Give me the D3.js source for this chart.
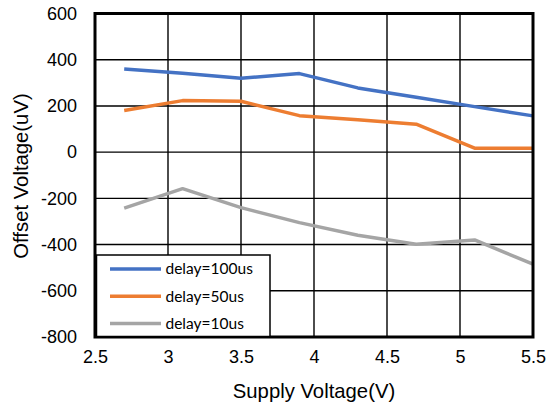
<!DOCTYPE html>
<html>
<head>
<meta charset="utf-8">
<script src="https://cdn.jsdelivr.net/npm/d3@7/dist/d3.min.js"></script>
<style>
  html, body { margin: 0; padding: 0; background: #fff; }
  svg { display: block; }
</style>
</head>
<body>
<svg id="chart" width="546" height="405"></svg>
<script>
// Supply voltage sweep points (V)
const supplyVoltage = [2.7, 3.1, 3.5, 3.9, 4.3, 4.7, 5.1, 5.5];
// Offset voltage (uV) per comparator delay setting
const delay100us = [360, 341, 320, 340, 278, 238, 197, 157];
const delay50us = [180, 223, 220, 158, 140, 121, 17, 17];
const delay10us = [-242, -158, -240, -305, -360, -399, -380, -485];
const seriesNames = ["delay=100us", "delay=50us", "delay=10us"];
const seriesColors = ["#4472C4", "#ED7D31", "#A5A5A5"];
const xTicks = [2.5, 3, 3.5, 4, 4.5, 5, 5.5];
const yTicks = [-800, -600, -400, -200, 0, 200, 400, 600];

const series = [delay100us, delay50us, delay10us].map((vals, i) => ({
  name: seriesNames[i],
  color: seriesColors[i],
  points: vals.map((v, j) => ({ x: supplyVoltage[j], y: v }))
}));

const svg = d3.select("#chart");
const plotLeft = 95, plotRight = 533, plotTop = 13.5, plotBottom = 337;

const x = d3.scaleLinear().domain([2.5, 5.5]).range([plotLeft, plotRight]);
const y = d3.scaleLinear().domain([-800, 600]).range([plotBottom, plotTop]);

const axisFont = "'Liberation Sans', Arial, sans-serif";
// Plain hyphen for negative numbers
const fmt = d3.formatLocale({ decimal: ".", thousands: ",", grouping: [3], currency: ["", ""], minus: "-" });

// Grid lines
const grid = svg.append("g");
grid.selectAll("line.v").data(xTicks).join("line").attr("class", "v")
  .attr("x1", d => x(d)).attr("x2", d => x(d))
  .attr("y1", plotTop).attr("y2", plotBottom)
  .attr("stroke", "#000").attr("stroke-width", 1.4);
grid.selectAll("line.h").data(yTicks).join("line").attr("class", "h")
  .attr("x1", plotLeft).attr("x2", plotRight)
  .attr("y1", d => y(d)).attr("y2", d => y(d))
  .attr("stroke", "#000").attr("stroke-width", 1.4);

// Axes (labels only; the frame is drawn separately)
const xAxis = d3.axisBottom(x).tickValues(xTicks).tickSize(0).tickPadding(13)
  .tickFormat(fmt.format("~g"));
const gx = svg.append("g").attr("transform", `translate(0,${plotBottom})`).call(xAxis);
gx.select(".domain").remove();
gx.selectAll("text").attr("font-family", axisFont).attr("font-size", 18).attr("fill", "#000");

const yAxis = d3.axisLeft(y).tickValues(yTicks).tickSize(0).tickPadding(18)
  .tickFormat(fmt.format("d"));
const gy = svg.append("g").attr("transform", `translate(${plotLeft},0)`).call(yAxis);
gy.select(".domain").remove();
gy.selectAll("text").attr("font-family", axisFont).attr("font-size", 18).attr("fill", "#000");

// Series lines
const line = d3.line().x(d => x(d.x)).y(d => y(d.y));
svg.append("g").selectAll("path").data(series).join("path")
  .attr("d", d => line(d.points))
  .attr("fill", "none")
  .attr("stroke", d => d.color)
  .attr("stroke-width", 3.5)
  .attr("stroke-linejoin", "round");

// Plot frame
svg.append("rect")
  .attr("x", plotLeft).attr("y", plotTop)
  .attr("width", plotRight - plotLeft).attr("height", plotBottom - plotTop)
  .attr("fill", "none").attr("stroke", "#000").attr("stroke-width", 3);

// Legend
const lg = svg.append("g");
const lgX = 96.5, lgY = 255, lgW = 173.5, lgH = 81.5;
lg.append("rect").attr("x", lgX).attr("y", lgY).attr("width", lgW).attr("height", lgH)
  .attr("fill", "#fff").attr("stroke", "#000").attr("stroke-width", 1.5);
const rows = lg.selectAll("g").data(series).join("g")
  .attr("transform", (d, i) => `translate(0,${269 + i * 27.2})`);
rows.append("line").attr("x1", 110).attr("x2", 161).attr("y1", 0).attr("y2", 0)
  .attr("stroke", d => d.color).attr("stroke-width", 3.5);
rows.append("text").attr("x", 165.5).attr("y", 0).attr("dy", "0.35em")
  .attr("font-family", "Lato, 'Open Sans', sans-serif").attr("font-size", 15.5)
  .attr("fill", "#000").text(d => d.name);

// Axis titles
svg.append("text").attr("x", 314).attr("y", 398)
  .attr("text-anchor", "middle").attr("font-family", axisFont).attr("font-size", 20.3)
  .text("Supply Voltage(V)");
svg.append("text")
  .attr("transform", "translate(28.3,176) rotate(-90)")
  .attr("text-anchor", "middle").attr("font-family", axisFont).attr("font-size", 20.3)
  .text("Offset Voltage(uV)");
</script>
</body>
</html>
